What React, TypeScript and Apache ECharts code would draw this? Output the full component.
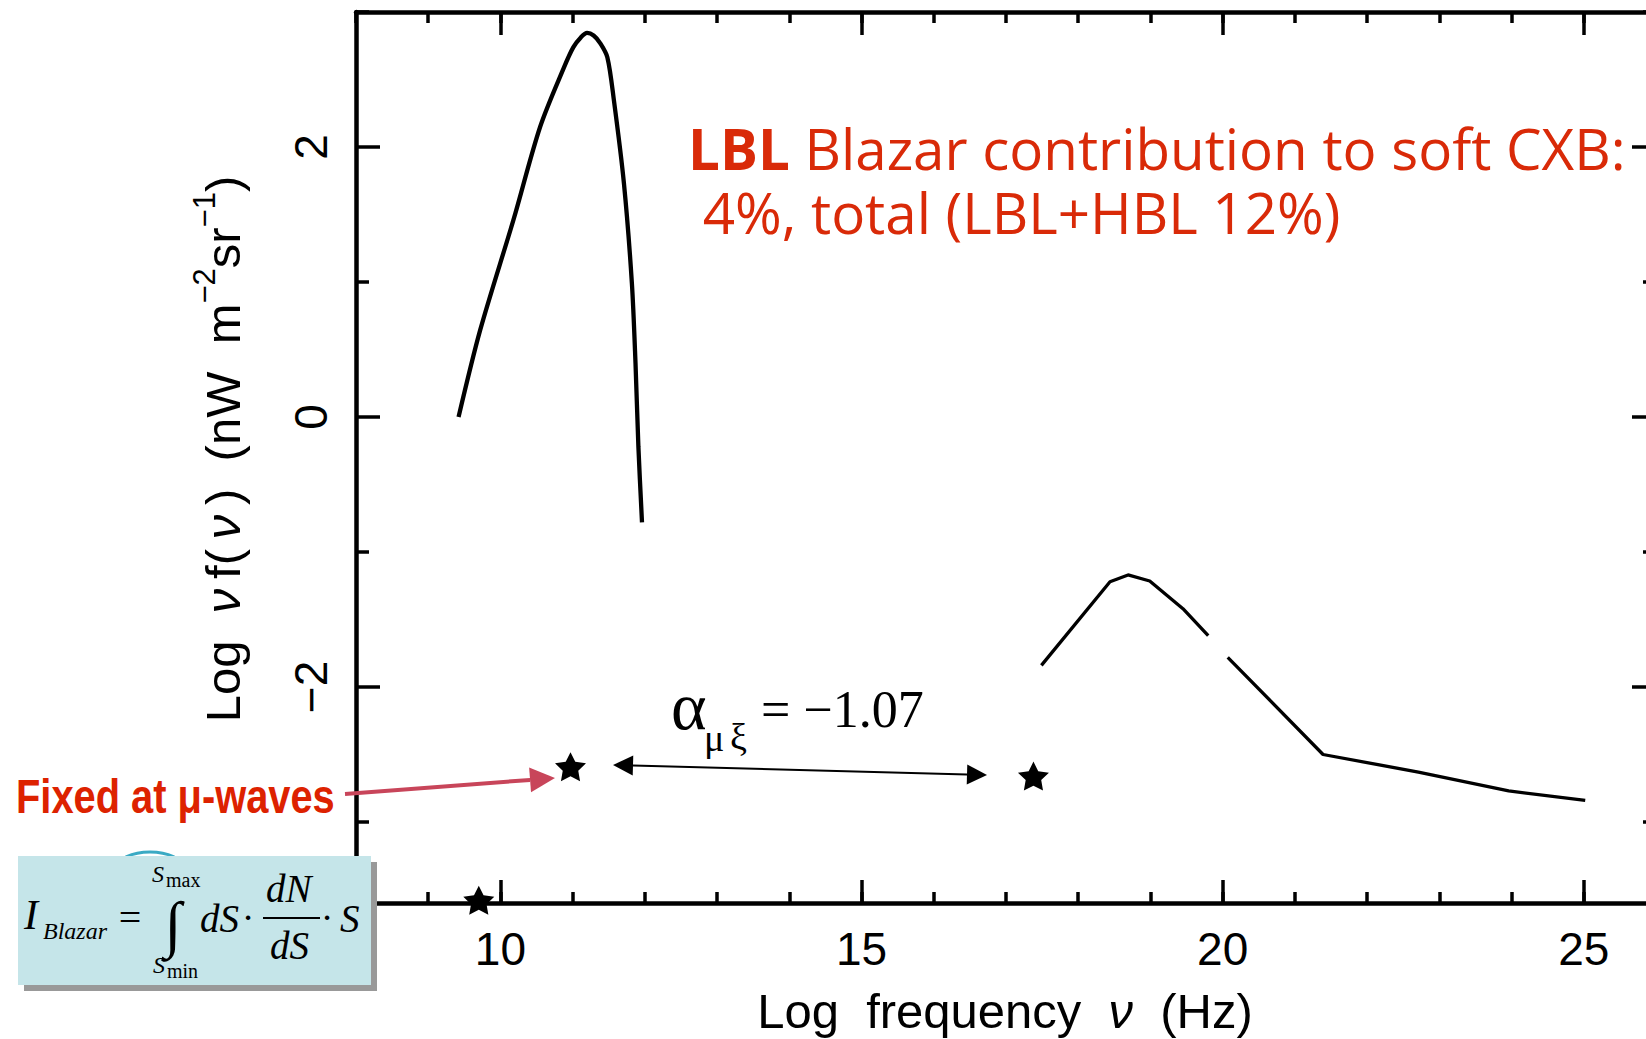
import React, { useEffect, useRef } from 'react';
import * as echarts from 'echarts';

// ---------------- data ----------------
const X_MIN = 8;
const X_MAX = 26;
const Y_MIN = -3.6;
const Y_MAX = 3;
const X_MAJOR_TICKS = [10, 15, 20, 25];
const Y_MAJOR_TICKS = [-2, 0, 2];
const Y_MINOR_TICKS = [-3, -1, 1, 3];

// synchrotron (LBL) bump
const syncLogNu = [9.42, 9.72, 10.18, 10.55, 10.88, 11.01, 11.11, 11.2, 11.29, 11.38, 11.48, 11.57, 11.71, 11.82, 11.87, 11.91, 11.96];
const syncLogNuFnu = [0.0, 0.645, 1.46, 2.15, 2.59, 2.74, 2.81, 2.845, 2.826, 2.77, 2.665, 2.35, 1.73, 0.99, 0.4, -0.22, -0.78];

// inverse-Compton bump (with a break)
const icLogNu = [17.49, 18.44, 18.69, 18.99, 19.45, 19.8, 19.93, 20.07, 21.39, 22.71, 23.96, 25.02];
const icLogNuFnu: (number | null)[] = [-1.84, -1.22, -1.17, -1.215, -1.42, -1.62, null, -1.78, -2.5, -2.63, -2.77, -2.84];

// star markers
const starLogNu = [9.7, 10.97, 17.38];
const starLogNuFnu = [-3.58, -2.59, -2.66];

// ---------------- styles ----------------
const SANS = '"Liberation Sans", Arial, Helvetica, sans-serif';
const SERIF = '"Liberation Serif", "Times New Roman", serif';
const ANNO = '"Open Sans", "Noto Sans", sans-serif';
const RED = '#d92a08';
const STAR = 'path://M12,0 L15.53,7.15 L23.41,8.29 L17.71,13.85 L19.05,21.71 L12,18 L4.95,21.71 L6.29,13.85 L0.59,8.29 L8.47,7.15 Z';

const axisLine = { show: true, onZero: false, lineStyle: { color: '#000', width: 4.5 } };
const tickLine = { color: '#000', width: 3.5 };

function head(tip: number[], tail: number[], len: number, hw: number) {
  const dx = tip[0] - tail[0];
  const dy = tip[1] - tail[1];
  const d = Math.hypot(dx, dy);
  const ux = dx / d;
  const uy = dy / d;
  const bx = tip[0] - ux * len;
  const by = tip[1] - uy * len;
  return { pts: [[tip[0], tip[1]], [bx - uy * hw, by + ux * hw], [bx + uy * hw, by - ux * hw]], base: [bx, by] };
}

function txt(x: number, y: number, text: string, size: number, family: string, extra: any = {}) {
  const { align, vAlign, z, rotation, scaleX, ...style } = extra;
  return {
    type: 'text',
    x,
    y,
    z: z ?? 100,
    rotation: rotation ?? 0,
    scaleX: scaleX ?? 1,
    style: {
      text,
      fontSize: size,
      fontFamily: family,
      fill: '#000',
      align: align ?? 'left',
      verticalAlign: vAlign ?? 'middle',
      ...style,
    },
  };
}

function buildGraphics() {
  const g: any[] = [];
  // black double arrow between the stars
  const bA = [613, 765];
  const bB = [987, 775];
  const h1 = head(bA, bB, 20, 10);
  const h2 = head(bB, bA, 20, 10);
  g.push({ type: 'line', z: 100, shape: { x1: h1.base[0], y1: h1.base[1], x2: h2.base[0], y2: h2.base[1] }, style: { stroke: '#000', lineWidth: 2 } });
  g.push({ type: 'polygon', z: 100, shape: { points: h1.pts }, style: { fill: '#000' } });
  g.push({ type: 'polygon', z: 100, shape: { points: h2.pts }, style: { fill: '#000' } });

  // red arrow
  const rFrom = [345, 794];
  const rTip = [555, 778];
  const rh = head(rTip, rFrom, 25, 12.5);
  g.push({ type: 'line', z: 100, shape: { x1: rFrom[0], y1: rFrom[1], x2: rh.base[0], y2: rh.base[1] }, style: { stroke: '#c8455a', lineWidth: 4 } });
  g.push({ type: 'polygon', z: 100, shape: { points: rh.pts }, style: { fill: '#c8455a' } });

  // alpha annotation
  g.push(txt(671, 706, 'α', 68, SERIF));
  g.push(txt(704, 738, 'μ', 38, SERIF));
  g.push(txt(730, 737, 'ξ', 38, SERIF));
  g.push(txt(761, 709, '= −1.07', 52, SERIF));

  // red annotations
  g.push(txt(688, 116, '{b|LBL} Blazar contribution to soft CXB:\n 4%, total (LBL+HBL 12%)', 56.5, ANNO, {
    vAlign: 'top', fill: RED, lineHeight: 64,
    rich: { b: { fontWeight: 'bold', fontSize: 56.5, fontFamily: ANNO, fill: RED, lineHeight: 64 } },
  }));
  g.push(txt(16, 796, 'Fixed at μ-waves', 48, SANS, { fill: '#dd2200', fontWeight: 'bold', scaleX: 0.83 }));

  // axis titles
  g.push(txt(1005, 1011, 'Log  frequency  {i|ν}  (Hz)', 49, SANS, { align: 'center', rich: { i: { fontStyle: 'italic', fontSize: 49, fontFamily: SANS } } }));
  g.push(txt(218, 449, '{n|Log  }{i|ν\u2009}{n|f(\u2009}{i|ν\u2009}{n|)  (nW  m}{s|−2}{n|sr}{s|−1}{n|)}', 49, SANS, {
    align: 'center', rotation: Math.PI / 2,
    rich: {
      n: { fontSize: 49, fontFamily: SANS, lineHeight: 58, verticalAlign: 'bottom' },
      i: { fontSize: 49, fontFamily: SANS, fontStyle: 'italic', lineHeight: 58, verticalAlign: 'bottom' },
      s: { fontSize: 31, fontFamily: SANS, lineHeight: 31, verticalAlign: 'top' },
    },
  }));

  // formula box
  g.push({ type: 'ellipse', z: 98, shape: { cx: 150, cy: 868, rx: 33, ry: 16 }, style: { fill: 'none', stroke: '#3aaac4', lineWidth: 3 } });
  g.push({ type: 'rect', z: 99, shape: { x: 24, y: 862, width: 353, height: 129 }, style: { fill: '#999999' } });
  g.push({ type: 'rect', z: 99, shape: { x: 18, y: 856, width: 353, height: 129 }, style: { fill: '#c5e5e9' } });
  g.push(txt(24, 915, 'I', 42, SERIF, { fontStyle: 'italic' }));
  g.push(txt(43, 931, 'Blazar', 24, SERIF, { fontStyle: 'italic' }));
  g.push(txt(130, 917, '=', 40, SERIF, { align: 'center' }));
  g.push(txt(173, 924, '∫', 62, SERIF, { align: 'center' }));
  g.push(txt(152, 874, 'S', 24, SERIF, { fontStyle: 'italic' }));
  g.push(txt(166, 880, 'max', 20, SERIF));
  g.push(txt(153, 965, 'S', 24, SERIF, { fontStyle: 'italic' }));
  g.push(txt(167, 971, 'min', 20, SERIF));
  g.push(txt(200, 918, 'dS', 39, SERIF, { fontStyle: 'italic' }));
  g.push(txt(248, 917, '·', 38, SERIF, { align: 'center' }));
  g.push(txt(266, 888, 'dN', 39, SERIF, { fontStyle: 'italic' }));
  g.push({ type: 'line', z: 100, shape: { x1: 263, y1: 918, x2: 320, y2: 918 }, style: { stroke: '#000', lineWidth: 2 } });
  g.push(txt(270, 945, 'dS', 39, SERIF, { fontStyle: 'italic' }));
  g.push(txt(327, 917, '·', 38, SERIF, { align: 'center' }));
  g.push(txt(340, 918, 'S', 39, SERIF, { fontStyle: 'italic' }));

  // cut-off reference at the bottom edge
  g.push(txt(167, 1032, '(G. Fontinato, 2005)', 40, ANNO, { vAlign: 'top', fill: '#2b2b7b' }));
  return g;
}

function buildOption(): any {
  const baseX = { type: 'value', min: X_MIN, max: X_MAX, gridIndex: 0, splitLine: { show: false } };
  const baseY = { type: 'value', min: Y_MIN, max: Y_MAX, gridIndex: 0, splitLine: { show: false } };
  const minus = (v: number) => (v < 0 ? '−' + Math.abs(v) : String(v));
  return {
    animation: false,
    backgroundColor: '#ffffff',
    grid: { left: 356, top: 12, right: -10, bottom: 136, containLabel: false, outerBoundsMode: 'none' },
    xAxis: [
      {
        ...baseX, position: 'bottom', axisLine,
        axisTick: { show: true, inside: true, length: 23, lineStyle: tickLine, customValues: X_MAJOR_TICKS },
        axisLabel: { show: true, customValues: X_MAJOR_TICKS, margin: 23, color: '#000', fontSize: 46, fontFamily: SANS },
      },
      {
        ...baseX, position: 'bottom', interval: 1, axisLine: { show: false, onZero: false },
        axisTick: { show: true, inside: true, length: 11, lineStyle: tickLine }, axisLabel: { show: false },
      },
      {
        ...baseX, position: 'top', axisLine,
        axisTick: { show: true, inside: true, length: 23, lineStyle: tickLine, customValues: X_MAJOR_TICKS },
        axisLabel: { show: false },
      },
      {
        ...baseX, position: 'top', interval: 1, axisLine: { show: false, onZero: false },
        axisTick: { show: true, inside: true, length: 11, lineStyle: tickLine }, axisLabel: { show: false },
      },
    ],
    yAxis: [
      {
        ...baseY, position: 'left', axisLine,
        axisTick: { show: true, inside: true, length: 24, lineStyle: tickLine, customValues: Y_MAJOR_TICKS },
        axisLabel: { show: true, customValues: Y_MAJOR_TICKS, rotate: 90, margin: 22, color: '#000', fontSize: 46, fontFamily: SANS, formatter: minus },
      },
      {
        ...baseY, position: 'left', axisLine: { show: false, onZero: false },
        axisTick: { show: true, inside: true, length: 13, lineStyle: tickLine, customValues: Y_MINOR_TICKS }, axisLabel: { show: false },
      },
      {
        ...baseY, position: 'right', axisLine,
        axisTick: { show: true, inside: true, length: 24, lineStyle: tickLine, customValues: Y_MAJOR_TICKS }, axisLabel: { show: false },
      },
      {
        ...baseY, position: 'right', axisLine: { show: false, onZero: false },
        axisTick: { show: true, inside: true, length: 13, lineStyle: tickLine, customValues: Y_MINOR_TICKS }, axisLabel: { show: false },
      },
    ],
    series: [
      {
        type: 'line', name: 'Synchrotron', xAxisIndex: 0, yAxisIndex: 0,
        data: syncLogNu.map((x, i) => [x, syncLogNuFnu[i]]),
        symbol: 'none', showSymbol: false, clip: false, smooth: 0.3,
        lineStyle: { color: '#000', width: 4.3 },
      },
      {
        type: 'line', name: 'Inverse Compton', xAxisIndex: 0, yAxisIndex: 0,
        data: icLogNu.map((x, i) => [x, icLogNuFnu[i] === null ? '-' : icLogNuFnu[i]]),
        symbol: 'none', showSymbol: false, connectNulls: false, clip: false,
        lineStyle: { color: '#000', width: 3.3 },
      },
      {
        type: 'scatter', name: 'Stars', xAxisIndex: 0, yAxisIndex: 0, z: 5,
        data: starLogNu.map((x, i) => [x, starLogNuFnu[i]]),
        symbol: STAR, symbolSize: [31, 29], clip: false,
        itemStyle: { color: '#000', opacity: 1 },
      },
    ],
    graphic: buildGraphics(),
  };
}

export default function App() {
  const ref = useRef<HTMLDivElement>(null);
  useEffect(() => {
    if (!ref.current) return;
    const chart = echarts.init(ref.current, null, { renderer: 'svg' });
    chart.setOption(buildOption());
    return () => chart.dispose();
  }, []);
  return (
    <div
      ref={ref}
      style={{ position: 'fixed', left: 0, top: 0, width: 1646, height: 1039, background: '#fff', overflow: 'hidden' }}
    />
  );
}
